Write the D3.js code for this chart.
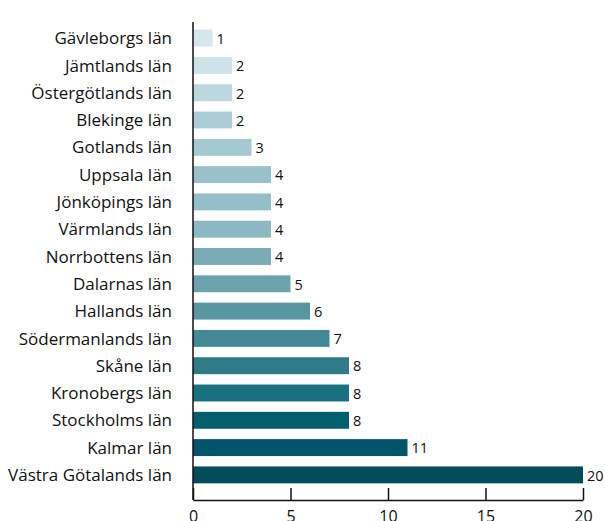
<!DOCTYPE html>
<html>
<head>
<meta charset="utf-8">
<script src="https://cdn.jsdelivr.net/npm/d3@7"></script>
<style>
  body { margin: 0; background: #fff; }
  svg { display: block; font-family: "Open Sans", sans-serif; }
</style>
</head>
<body>
<div id="chart"></div>
<script>
const categories = [
  "Gävleborgs län", "Jämtlands län", "Östergötlands län", "Blekinge län",
  "Gotlands län", "Uppsala län", "Jönköpings län", "Värmlands län",
  "Norrbottens län", "Dalarnas län", "Hallands län", "Södermanlands län",
  "Skåne län", "Kronobergs län", "Stockholms län", "Kalmar län",
  "Västra Götalands län"
];
const values = [1, 2, 2, 2, 3, 4, 4, 4, 4, 5, 6, 7, 8, 8, 8, 11, 20];
const xTicks = [0, 5, 10, 15, 20];

const barColors = [
  "#d4e8ec", "#cce4e8", "#bad8de", "#aacdd5", "#a5c9d1", "#98c1ca",
  "#95bfc8", "#8bb8c2", "#7aacb7", "#6aa2ad", "#5996a2", "#438996",
  "#2f7b88", "#19707e", "#035e6e", "#01546a", "#024c5c"
];

const width = 605, height = 521;
const x0 = 193, x1 = 583;

const svg = d3.select("#chart").append("svg")
  .attr("width", width)
  .attr("height", height);

const x = d3.scaleLinear().domain([0, 20]).range([x0, x1]);
const y = d3.scaleBand()
  .domain(categories)
  .range([22, 491])
  .paddingInner(0.38)
  .paddingOuter(0.28);

// bars
svg.selectAll("rect.bar")
  .data(values)
  .join("rect")
  .attr("class", "bar")
  .attr("x", x(0))
  .attr("y", (d, i) => y(categories[i]))
  .attr("width", d => x(d) - x(0))
  .attr("height", y.bandwidth())
  .attr("fill", (d, i) => barColors[i]);

// value labels
svg.selectAll("text.val")
  .data(values)
  .join("text")
  .attr("class", "val")
  .attr("x", d => x(d) + 4)
  .attr("y", (d, i) => y(categories[i]) + y.bandwidth() / 2)
  .attr("dy", "0.4em")
  .attr("font-size", 14.5)
  .attr("fill", "#111")
  .text(d => d);

// category labels
svg.selectAll("text.cat")
  .data(categories)
  .join("text")
  .attr("class", "cat")
  .attr("x", 172)
  .attr("y", d => y(d) + y.bandwidth() / 2)
  .attr("dy", "0.36em")
  .attr("text-anchor", "end")
  .attr("font-size", 17)
  .attr("fill", "#111")
  .text(d => d);

// y axis line
svg.append("line")
  .attr("x1", x0).attr("x2", x0)
  .attr("y1", 22).attr("y2", 500)
  .attr("stroke", "#111")
  .attr("stroke-width", 1.5);

// x axis, ticks pointing up
const xAxis = svg.append("g")
  .attr("transform", "translate(0,500)")
  .call(d3.axisBottom(x).tickValues(xTicks).tickSizeInner(-12).tickSizeOuter(0).tickPadding(11));

xAxis.select(".domain").attr("stroke", "#111").attr("stroke-width", 1.5);
xAxis.selectAll(".tick line").attr("stroke", "#111").attr("stroke-width", 1.5);
xAxis.selectAll(".tick text")
  .attr("font-size", 16)
  .attr("font-family", "Open Sans, sans-serif")
  .attr("fill", "#111");
</script>
</body>
</html>
